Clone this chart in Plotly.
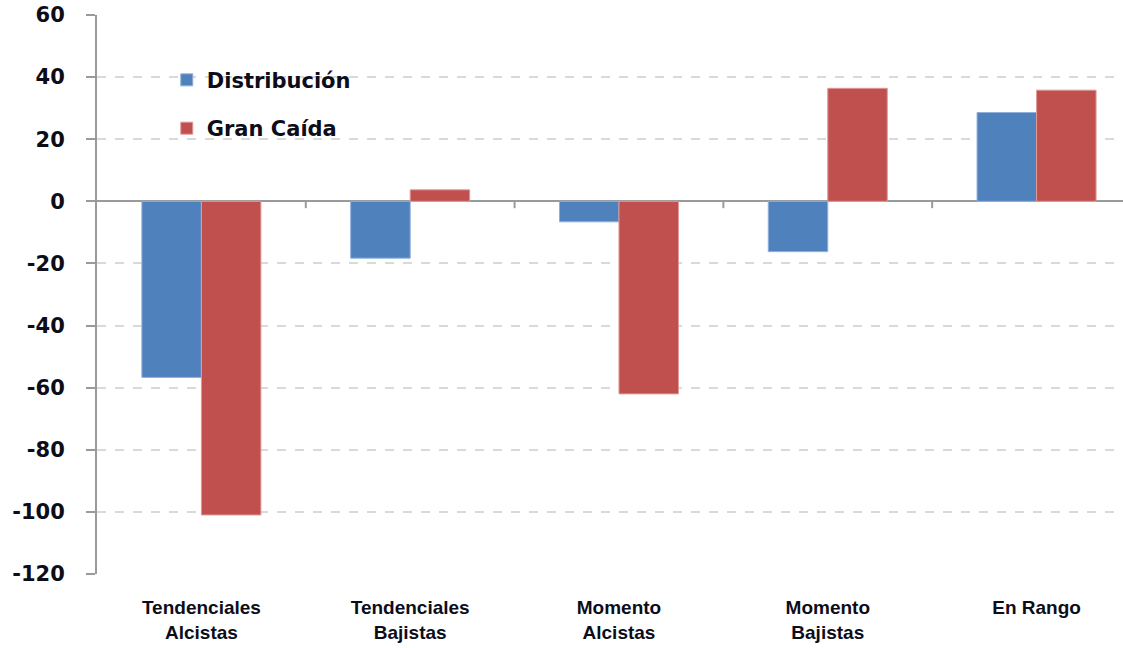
import plotly.graph_objects as go

categories = ["Tendenciales<br>Alcistas", "Tendenciales<br>Bajistas", "Momento<br>Alcistas",
              "Momento<br>Bajistas", "En Rango"]
distribucion = [-56.7, -18.3, -6.6, -16.2, 28.6]
gran_caida = [-101.0, 3.7, -62.0, 36.4, 35.8]
y_ticks = [60, 40, 20, 0, -20, -40, -60, -80, -100, -120]

blue = "#4F81BD"
red = "#C0504D"
axis_gray = "#9a9a9a"
label_color = "#0d0d1a"

fig = go.Figure()
fig.add_trace(go.Bar(
    x=list(range(len(categories))), y=distribucion, name="Distribución",
    marker=dict(color=blue, line=dict(color="#8fb0dc", width=1)),
    legendgroup="a",
))
fig.add_trace(go.Bar(
    x=list(range(len(categories))), y=gran_caida, name="Gran Caída",
    marker=dict(color=red, line=dict(color="#e09a98", width=1)),
    legendgroup="b",
))

# small tick marks on the zero line between categories
shapes = []
for i in range(len(categories) - 1):
    shapes.append(dict(type="line", xref="x", yref="y", x0=i + 0.5, x1=i + 0.5,
                       y0=0, y1=-2.2, line=dict(color=axis_gray, width=2)))

fig.update_layout(
    width=1123, height=648,
    margin=dict(l=97, r=0, t=15, b=74),
    paper_bgcolor="white", plot_bgcolor="white",
    barmode="group", bargap=0.43, bargroupgap=0.0,
    showlegend=True,
    legend=dict(x=0.068, y=0.92, xanchor="left", yanchor="top",
                bgcolor="rgba(0,0,0,0)", tracegroupgap=18,
                font=dict(family="DejaVu Sans", size=21, color=label_color, weight="bold"),
                itemwidth=30),
    shapes=shapes,
    xaxis=dict(
        range=[-0.5, 4.414],
        tickmode="array", tickvals=list(range(len(categories))), ticktext=categories,
        showgrid=False, showline=False, zeroline=False, ticks="",
        tickfont=dict(family="Liberation Sans Narrow, Arial Narrow, Liberation Sans", size=19,
                      color=label_color, weight="bold"),
        ticklabelstandoff=20,
    ),
    yaxis=dict(
        range=[-120, 60],
        tickmode="array", tickvals=y_ticks, ticktext=[str(v) for v in y_ticks],
        showgrid=True, gridcolor="#d9d9d9", gridwidth=1.5, griddash="dash",
        zeroline=True, zerolinecolor=axis_gray, zerolinewidth=2,
        showline=True, linecolor=axis_gray, linewidth=2,
        ticks="outside", ticklen=9, tickwidth=2, tickcolor=axis_gray,
        tickfont=dict(family="DejaVu Sans", size=21, color=label_color, weight="bold"),
        ticklabelstandoff=17,
    ),
)

fig.write_html("out.html", config={"displayModeBar": False},
               post_script="document.body.style.margin='0';")
